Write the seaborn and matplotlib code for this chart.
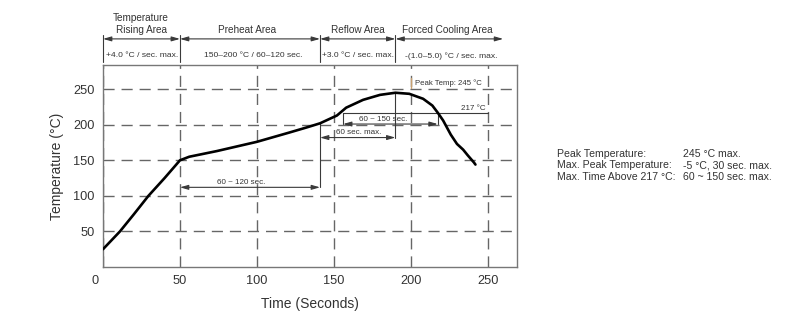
import matplotlib
matplotlib.use("Agg")
import matplotlib.pyplot as plt
import matplotlib.transforms as mtransforms
import seaborn as sns
import pandas as pd

# Reflow profile: time (s) and temperature (°C)
time_s = [0, 11, 20, 29.5, 40, 46, 50, 56, 74, 100, 121, 132, 141, 152, 158,
          169, 180, 190, 199, 208, 214, 217.5, 221, 226, 230, 234, 237, 241, 242]
temp_c = [25, 50, 74, 100, 125, 140, 150, 155, 163, 176, 189, 196, 202, 213, 224,
          235, 242, 245, 243.5, 236.5, 227, 217, 206, 186, 173, 165, 157, 147, 144]

x_ticks = [0, 50, 100, 150, 200, 250]
y_ticks = [50, 100, 150, 200, 250]

# Zone boundaries along the time axis
zone_edges = [0, 50, 141, 190, 260]
zone_names = ["Temperature\nRising Area", "Preheat Area", "Reflow Area", "Forced Cooling Area"]
zone_name_x = [24.7, 93.5, 165.6, 224]
zone_rates = ["+4.0 °C / sec. max.", "150–200 °C / 60–120 sec.",
              "+3.0 °C / sec. max.", "-(1.0–5.0) °C / sec. max."]
zone_rate_x = [25.3, 97.4, 165.6, 226.6]

# Profile limits
peak_temp = 245
liquidus = 217
preheat_span = (50, 141)
reflow_rise_span = (141, 190)
above_liquidus_span = (156, 217.5)

spec_labels = ["Peak Temperature:", "Max. Peak Temperature:", "Max. Time Above 217 °C:"]
spec_values = ["245 °C max.", "-5 °C, 30 sec. max.", "60 ~ 150 sec. max."]

sns.set_style("white")
plt.rcParams["font.family"] = ["Liberation Sans", "DejaVu Sans"]
TXT = "#333333"
LINE = "#3a3a3a"

fig = plt.figure(figsize=(7.92, 3.23), dpi=100)
ax = fig.add_axes([103 / 792, 1 - 267 / 323, 414 / 792, 202 / 323])

df = pd.DataFrame({"Time": time_s, "Temp": temp_c})
sns.lineplot(data=df, x="Time", y="Temp", ax=ax, color="black", lw=1.9,
             sort=False, estimator=None, zorder=5)

ax.set_xlim(0, 269)
ax.set_ylim(0, 284)
ax.set_xticks(x_ticks)
ax.set_yticks(y_ticks)
ax.set_xticklabels([str(v) for v in x_ticks])
ax.set_yticklabels([str(v) for v in y_ticks])
ax.tick_params(length=0, labelsize=9.2, labelcolor=TXT, pad=6)
lbl0 = ax.get_xticklabels()[0]
lbl0.set_transform(lbl0.get_transform() +
                   mtransforms.ScaledTranslation(-8 / 100, 0, fig.dpi_scale_trans))
for s in ax.spines.values():
    s.set_color("#777777")
    s.set_linewidth(1.0)

ax.grid(True, color="#666666", lw=1.0, linestyle=(0, (8, 5)))
ax.set_axisbelow(True)
ax.set_xlabel("Time (Seconds)", fontsize=10, color=TXT, labelpad=7)
ax.set_ylabel("Temperature (°C)", fontsize=10, color=TXT, labelpad=7)


def span_arrow(x0, x1, y, ms=7, lw=0.8):
    ax.annotate("", xy=(x1, y), xytext=(x0, y), annotation_clip=False,
                arrowprops=dict(arrowstyle="<|-|>,head_length=0.7,head_width=0.2",
                                color=LINE, lw=lw, mutation_scale=ms,
                                shrinkA=0, shrinkB=0))


# Zone header above the plot
for x0, x1 in zip(zone_edges[:-1], zone_edges[1:]):
    span_arrow(x0, x1, 320.7)
for x in zone_edges[:-1]:
    ax.plot([x, x], [288, 326], color=LINE, lw=0.8, clip_on=False)
for name, x in zip(zone_names, zone_name_x):
    lines = name.split("\n")
    ys = [350.3, 333.4] if len(lines) == 2 else [333.4]
    for line, y in zip(lines, ys):
        ax.text(x, y, line, ha="center", va="center", fontsize=7.2,
                color=TXT, clip_on=False)
for rate, x in zip(zone_rates, zone_rate_x):
    ax.text(x, 297, rate, ha="center", va="center", fontsize=6.1, color=TXT, clip_on=False)

# Preheat duration
span_arrow(*preheat_span, 112)
ax.plot([preheat_span[1]] * 2, [112, 202], color=LINE, lw=0.8)
ax.text(90, 114, "60 ~ 120 sec.", ha="center", va="bottom", fontsize=5.8, color=TXT)

# Rise to peak
span_arrow(*reflow_rise_span, 182)
ax.plot([reflow_rise_span[1]] * 2, [182, peak_temp], color=LINE, lw=0.8)
ax.text(166, 184, "60 sec. max.", ha="center", va="bottom", fontsize=5.8, color=TXT)

# Time above liquidus
span_arrow(*above_liquidus_span, 201)
ax.plot([above_liquidus_span[0]] * 2, [201, liquidus], color=LINE, lw=0.8)
ax.plot([above_liquidus_span[1]] * 2, [201, liquidus], color=LINE, lw=0.8)
ax.text(182, 203, "60 ~ 150 sec.", ha="center", va="bottom", fontsize=5.8, color=TXT)
ax.plot([above_liquidus_span[0], 250], [liquidus, liquidus], color=LINE, lw=0.8)
ax.text(248.5, liquidus + 1.5, f"{liquidus} °C", ha="right", va="bottom",
        fontsize=5.8, color=TXT)

# Peak temperature tag
ax.plot([200, 200], [251, 266], color="#c8a070", lw=1.0)
ax.text(202.5, 258.5, f"Peak Temp: {peak_temp} °C", ha="left", va="center",
        fontsize=5.6, color=TXT)

# Specification block on the right
for i, (lab, val) in enumerate(zip(spec_labels, spec_values)):
    y = 1 - (154 + i * 11.5) / 323
    fig.text(557 / 792, y, lab, ha="left", va="center", fontsize=7.6, color=TXT)
    fig.text(683 / 792, y, val, ha="left", va="center", fontsize=7.6, color=TXT)

fig.savefig("out.png", dpi=100, facecolor="white")
